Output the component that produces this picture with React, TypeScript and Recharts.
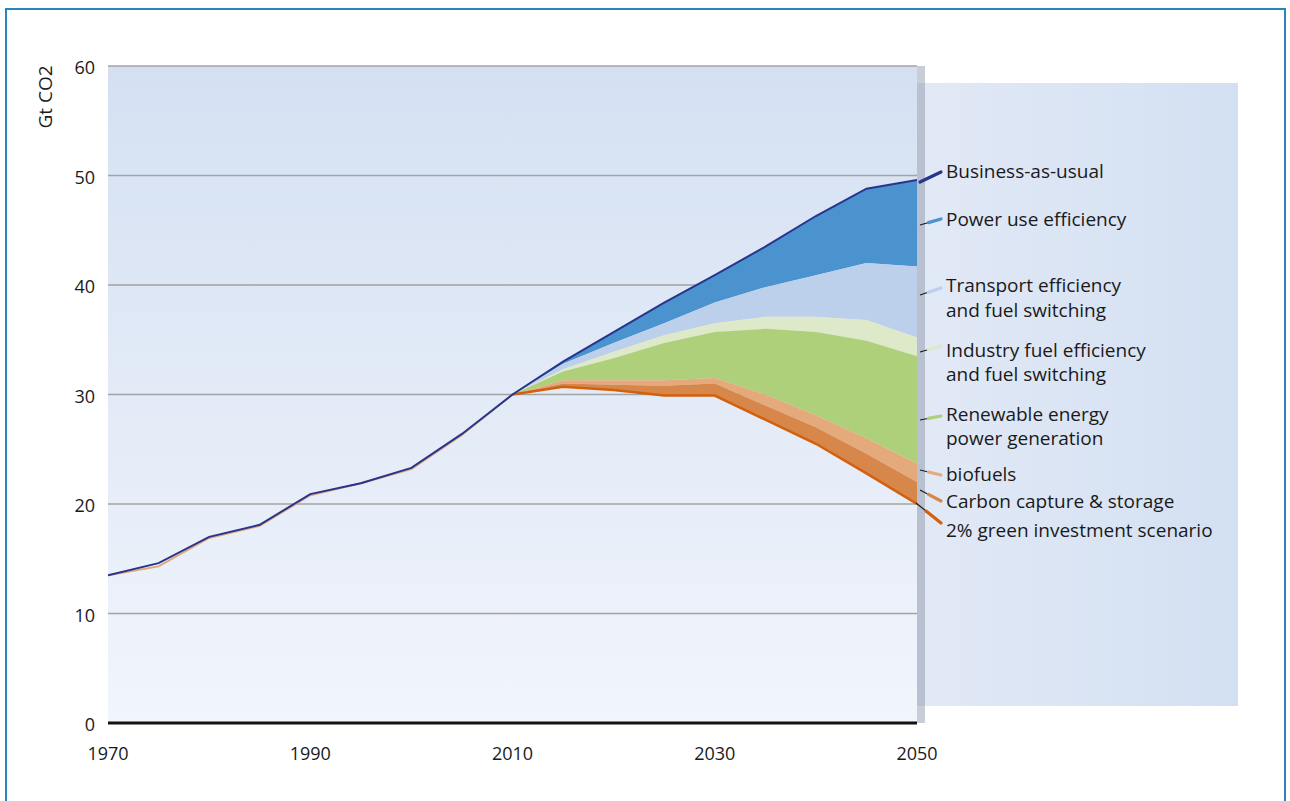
import React from "react";
import { ComposedChart, Area, Line, XAxis, YAxis, CartesianGrid } from "recharts";

// ---- data ----
const years = [1970, 1975, 1980, 1985, 1990, 1995, 2000, 2005, 2010, 2015, 2020, 2025, 2030, 2035, 2040, 2045, 2050];
// 1970..2010
const historical = [13.5, 14.6, 17.0, 18.1, 20.9, 21.9, 23.3, 26.4, 30.0];
const historicalAlt = [13.5, 14.3, 16.9, 18.0, 20.8, 21.9, 23.2, 26.3, 30.0];
// 2010..2050 boundaries (top to bottom)
const businessAsUsual = [30.0, 33.0, 35.7, 38.4, 40.9, 43.5, 46.3, 48.8, 49.6];
const afterPowerEfficiency = [30.0, 32.8, 34.7, 36.5, 38.4, 39.8, 40.9, 42.0, 41.7];
const afterTransport = [30.0, 32.3, 33.9, 35.4, 36.5, 37.1, 37.1, 36.8, 35.2];
const afterIndustry = [30.0, 32.1, 33.3, 34.7, 35.7, 36.0, 35.7, 34.9, 33.5];
const afterRenewables = [30.0, 31.3, 31.3, 31.3, 31.5, 30.0, 28.1, 26.0, 23.7];
const afterBiofuels = [30.0, 31.0, 30.9, 30.8, 31.0, 29.0, 27.0, 24.6, 22.0];
const greenScenario = [30.0, 30.7, 30.4, 29.9, 29.9, 27.7, 25.5, 22.8, 20.0];

const xTicks = [1970, 1990, 2010, 2030, 2050];
const yTicks = [0, 10, 20, 30, 40, 50, 60];

const legendItems = [
  { lines: ["Business-as-usual"], color: "#27358c" },
  { lines: ["Power use efficiency"], color: "#4a93cf" },
  { lines: ["Transport efficiency", "and fuel switching"], color: "#bccfeb" },
  { lines: ["Industry fuel efficiency", "and fuel switching"], color: "#dde9c9" },
  { lines: ["Renewable energy", "power generation"], color: "#aed07b" },
  { lines: ["biofuels"], color: "#e5aa7b" },
  { lines: ["Carbon capture & storage"], color: "#d8874a" },
  { lines: ["2% green investment scenario"], color: "#d2600c" },
];

const H = 8; // index of 2010
const data = years.map((year, i) => {
  const s = i - H;
  const row: any = { year };
  if (i <= H) {
    row.bauLine = historical[i];
    row.histAlt = historicalAlt[i];
  } else {
    row.bauLine = businessAsUsual[s];
  }
  if (i >= H) {
    row.green = greenScenario[s];
    row.power = [afterPowerEfficiency[s], businessAsUsual[s]];
    row.transport = [afterTransport[s], afterPowerEfficiency[s]];
    row.industry = [afterIndustry[s], afterTransport[s]];
    row.renewable = [afterRenewables[s], afterIndustry[s]];
    row.biofuels = [afterBiofuels[s], afterRenewables[s]];
    row.ccs = [greenScenario[s], afterBiofuels[s]];
  }
  return row;
});

const FONT = "'Open Sans', 'Noto Sans', sans-serif";
const tickStyle = { fontFamily: FONT, fontSize: 18, fill: "#1a1a1a" };

// legend layout (decoration)
const legendTops = [[159], [207], [273, 298], [338, 362], [402, 426], [462], [489], [518]];
const leader = [
  [920, 182, 941, 172],
  [920, 225, 941, 219],
  [920, 295, 941, 288],
  [920, 352, 941, 346],
  [920, 420, 941, 416],
  [920, 470, 941, 475],
  [920, 490, 941, 501],
  [916, 503, 941, 523],
];

export default function App() {
  return (
    <div style={{ position: "absolute", left: 0, top: 0, width: 1290, height: 801, background: "#fff", overflow: "hidden" }}>
      <svg width={0} height={0} style={{ position: "absolute" }}>
        <defs>
          <linearGradient id="plotBg" x1="0" y1="0" x2="0" y2="1">
            <stop offset="0%" stopColor="#d4e0f2" />
            <stop offset="100%" stopColor="#f1f5fc" />
          </linearGradient>
        </defs>
      </svg>
      <div style={{ position: "absolute", left: 5, top: 8, width: 1281, height: 820, border: "2px solid #2b84c2", boxSizing: "border-box" }} />
      <div style={{ position: "absolute", left: 917, top: 83, width: 321, height: 623, background: "linear-gradient(to right, #e2e9f6, #d3e0f2)" }} />
      <div style={{ position: "absolute", left: 0, top: 0 }}>
        <ComposedChart width={1290} height={801} data={data} margin={{ top: 66, right: 373, left: 48, bottom: 48 }}>
          <CartesianGrid vertical={false} stroke="#a3a3a3" strokeWidth={1.5} fill="url(#plotBg)" fillOpacity={1} />
          <XAxis
            type="number"
            dataKey="year"
            domain={[1970, 2050]}
            ticks={xTicks}
            allowDataOverflow
            height={30}
            axisLine={{ stroke: "#111", strokeWidth: 3 }}
            tickLine={false}
            tickSize={0}
            tickMargin={24}
            tick={tickStyle}
          />
          <YAxis
            type="number"
            domain={[0, 60]}
            ticks={yTicks}
            width={60}
            axisLine={false}
            tickLine={false}
            tickSize={0}
            tickMargin={13}
            tick={{ ...tickStyle, dy: 2 }}
          />
          <Area type="linear" dataKey="power" fill="#4a93cf" fillOpacity={1} stroke="none" isAnimationActive={false} dot={false} activeDot={false} />
          <Area type="linear" dataKey="transport" fill="#bccfeb" fillOpacity={1} stroke="none" isAnimationActive={false} dot={false} activeDot={false} />
          <Area type="linear" dataKey="industry" fill="#dde9c9" fillOpacity={1} stroke="none" isAnimationActive={false} dot={false} activeDot={false} />
          <Area type="linear" dataKey="renewable" fill="#aed07b" fillOpacity={1} stroke="none" isAnimationActive={false} dot={false} activeDot={false} />
          <Area type="linear" dataKey="biofuels" fill="#e5aa7b" fillOpacity={1} stroke="none" isAnimationActive={false} dot={false} activeDot={false} />
          <Area type="linear" dataKey="ccs" fill="#d8874a" fillOpacity={1} stroke="none" isAnimationActive={false} dot={false} activeDot={false} />
          <Line type="linear" dataKey="histAlt" stroke="#e3a877" strokeWidth={2} dot={false} activeDot={false} isAnimationActive={false} />
          <Line type="linear" dataKey="green" stroke="#d2600c" strokeWidth={2.5} dot={false} activeDot={false} isAnimationActive={false} />
          <Line type="linear" dataKey="bauLine" stroke="#27358c" strokeWidth={2} dot={false} activeDot={false} isAnimationActive={false} />
        </ComposedChart>
      </div>
      <div style={{ position: "absolute", left: 917, top: 66, width: 8, height: 657, background: "rgba(135,145,162,0.45)" }} />
      <div
        style={{
          position: "absolute",
          left: 45,
          top: 97,
          transform: "translate(-50%, -50%) rotate(-90deg)",
          fontFamily: FONT,
          fontSize: 19,
          color: "#1a1a1a",
          whiteSpace: "nowrap",
        }}
      >
        Gt CO2
      </div>
      <svg width={1290} height={801} style={{ position: "absolute", left: 0, top: 0, pointerEvents: "none" }}>
        {leader.map(([x1, y1, x2, y2], i) => {
          const mx = x1 + (x2 - x1) * 0.4;
          const my = y1 + (y2 - y1) * 0.4;
          return (
            <g key={i}>
              <line x1={x1} y1={y1} x2={x2} y2={y2} stroke="#1a1a1a" strokeWidth={1.2} />
              <line x1={i === 0 ? x1 : mx} y1={i === 0 ? y1 : my} x2={x2} y2={y2} stroke={legendItems[i].color} strokeWidth={3.2} strokeLinecap="round" />
            </g>
          );
        })}
      </svg>
      {legendItems.map((item, i) =>
        item.lines.map((txt, j) => (
          <div
            key={i + "-" + j}
            style={{
              position: "absolute",
              left: 946,
              top: legendTops[i][j],
              fontFamily: FONT,
              fontSize: 19,
              lineHeight: "24px",
              color: "#1a1a1a",
              whiteSpace: "nowrap",
            }}
          >
            {txt}
          </div>
        ))
      )}
    </div>
  );
}
